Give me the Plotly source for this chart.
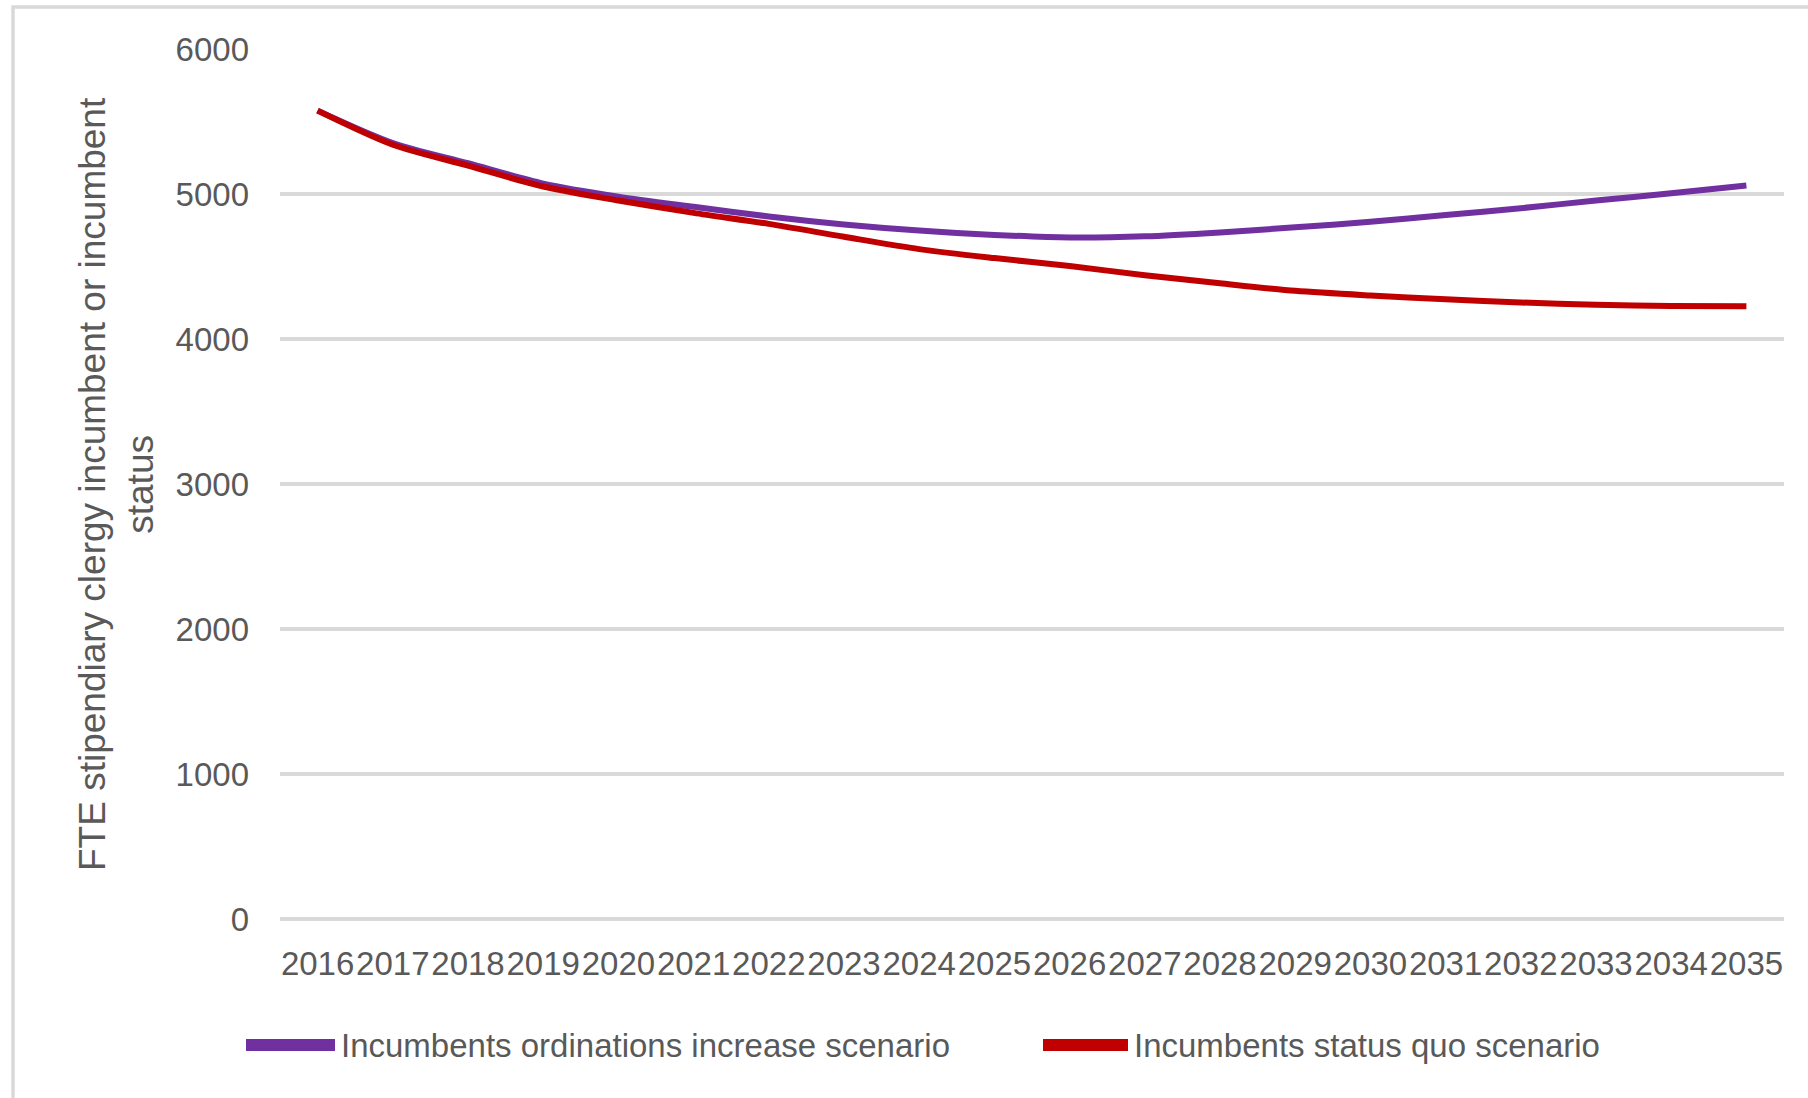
import plotly.graph_objects as go

years = ["2016", "2017", "2018", "2019", "2020", "2021", "2022", "2023", "2024", "2025",
         "2026", "2027", "2028", "2029", "2030", "2031", "2032", "2033", "2034", "2035"]

increase_scenario = [5575, 5352, 5212, 5072, 4982, 4912, 4845, 4790, 4748, 4718,
                     4700, 4708, 4735, 4770, 4808, 4855, 4902, 4955, 5005, 5058]
status_quo = [5575, 5340, 5196, 5052, 4955, 4870, 4794, 4705, 4620, 4558,
              4503, 4440, 4384, 4332, 4300, 4274, 4252, 4236, 4227, 4225]

series_names = ["Incumbents ordinations increase scenario", "Incumbents status quo scenario"]
series_colors = ["#7030A0", "#C00000"]
y_title = "FTE stipendiary clergy incumbent or incumbent<br>status"

W, H = 1808, 1098
L, R, T, B = 280, 24, 49, 179
PW, PH = W - L - R, H - T - B

def px_x(p):
    return (p - L) / PW

def px_y(p):
    return (H - B - p) / PH

FONT = "Liberation Sans, Arial, sans-serif"
GREY = "#595959"
GRID = "#D9D9D9"

fig = go.Figure()
for name, vals, col in zip(series_names, [increase_scenario, status_quo], series_colors):
    fig.add_trace(go.Scatter(x=years, y=vals, mode="lines", name=name,
                             line=dict(color=col, width=6, shape="spline", smoothing=0.8),
                             showlegend=False))

shapes = [
    dict(type="rect", xref="paper", yref="paper", x0=px_x(13), x1=px_x(1830),
         y0=px_y(7), y1=px_y(1120), line=dict(color=GRID, width=3.5), layer="below"),
]
annotations = [
    dict(text=y_title, xref="paper", yref="paper", x=px_x(116), y=0.5,
         xanchor="center", yanchor="middle", textangle=-90, showarrow=False,
         font=dict(family=FONT, size=37, color=GREY)),
]
legend_items = [(246, 335, 339), (1043, 1128, 1132)]
for (x0, x1, tx), name, col in zip(legend_items, series_names, series_colors):
    shapes.append(dict(type="line", xref="paper", yref="paper", x0=px_x(x0), x1=px_x(x1),
                       y0=px_y(1045), y1=px_y(1045), line=dict(color=col, width=12)))
    annotations.append(dict(text=name, xref="paper", yref="paper", x=px_x(tx), y=px_y(1045),
                            xanchor="left", yanchor="middle", showarrow=False,
                            font=dict(family=FONT, size=33, color=GREY)))

fig.update_layout(
    width=W, height=H, margin=dict(l=L, r=R, t=T, b=B, autoexpand=False),
    paper_bgcolor="white", plot_bgcolor="white",
    font=dict(family=FONT, size=33, color=GREY),
    shapes=shapes, annotations=annotations, showlegend=False,
)
fig.update_xaxes(type="category", range=[-0.5, 19.5], showgrid=False, showline=False,
                 zeroline=False, tickangle=0, ticks="", ticklabelstandoff=22,
                 tickfont=dict(family=FONT, size=33, color=GREY))
fig.update_yaxes(range=[0, 6000], dtick=1000, showgrid=True, gridcolor=GRID, gridwidth=3.5,
                 zeroline=True, zerolinecolor=GRID, zerolinewidth=3.5, showline=False,
                 ticks="", ticklabelstandoff=30,
                 tickfont=dict(family=FONT, size=33, color=GREY))

fig.write_html("out.html")
